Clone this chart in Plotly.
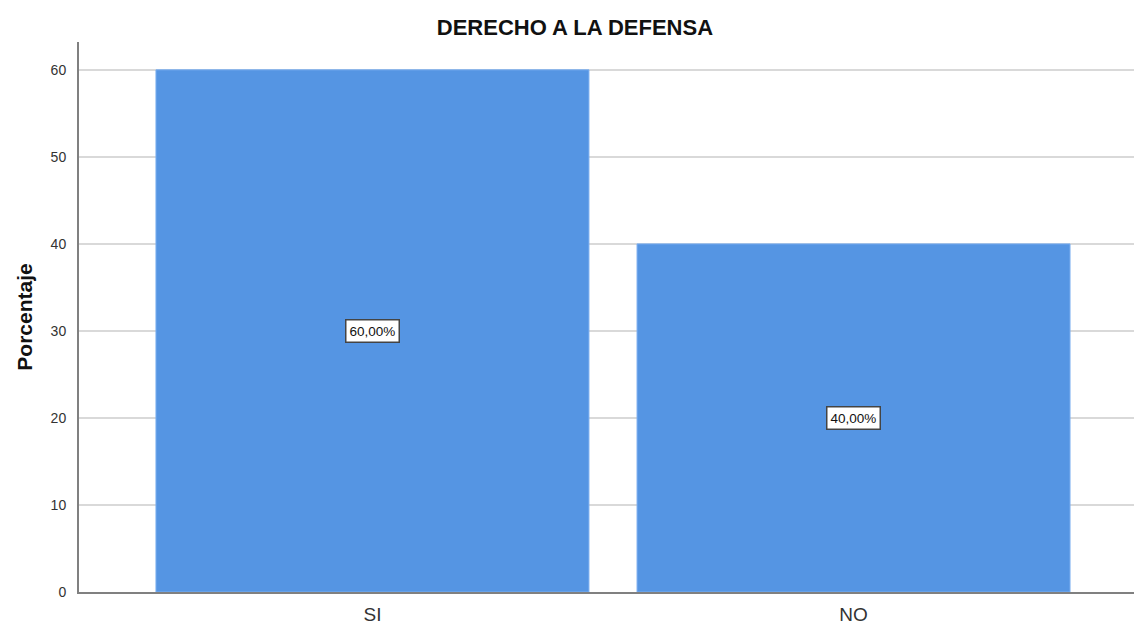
import plotly.graph_objects as go

categories = ["SI", "NO"]
values = [60, 40]
labels = ["60,00%", "40,00%"]
y_ticks = [0, 10, 20, 30, 40, 50, 60]

fig = go.Figure()
fig.add_trace(go.Bar(
    x=[0, 1], y=values, width=0.9,
    marker=dict(color="#5595e3", line=dict(color="#7aaef0", width=1)),
    hoverinfo="skip",
))

for i, (v, t) in enumerate(zip(values, labels)):
    fig.add_annotation(
        x=i, y=v / 2, text=t, showarrow=False,
        font=dict(family="Liberation Sans, Arial", size=13.5, color="#111"),
        bgcolor="white", bordercolor="#444", borderwidth=1.5, borderpad=3,
    )

fig.update_layout(
    width=1134, height=624,
    margin=dict(l=79, r=0, t=42, b=32),
    plot_bgcolor="white", paper_bgcolor="white",
    showlegend=False,
    font=dict(family="Liberation Sans, Arial", color="#222"),
    title=dict(text="<b>DERECHO A LA DEFENSA</b>", x=0.507, xanchor="center",
               y=0.956, yanchor="middle", font=dict(size=22, color="#111")),
    xaxis=dict(
        range=[-0.61, 1.583], tickmode="array", tickvals=[0, 1], ticktext=categories,
        showgrid=False, zeroline=False, showline=True, linecolor="#808080", linewidth=2,
        tickfont=dict(size=19, color="#333"), ticks="", ticklabelstandoff=4,
    ),
    yaxis=dict(
        range=[0, 63.2], tickmode="array", tickvals=y_ticks,
        showgrid=True, gridcolor="#d9d9d9", gridwidth=2, zeroline=False,
        showline=True, linecolor="#808080", linewidth=2,
        tickfont=dict(size=14, color="#333"), ticks="", ticklabelstandoff=8,
        title=dict(text="<b>Porcentaje</b>", font=dict(size=21, color="#111"), standoff=12),
    ),
)

fig.write_html("out.html", config={"displayModeBar": False},
               post_script="document.body.style.margin='0';document.body.style.overflow='hidden';")
